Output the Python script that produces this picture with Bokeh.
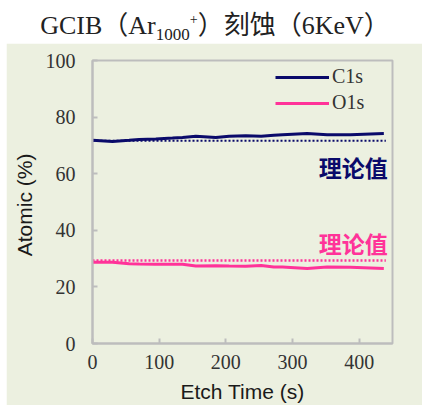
from bokeh.plotting import figure
from bokeh.models import Range1d, FixedTicker, Legend, LegendItem, Div
from bokeh.layouts import column
from bokeh.core.properties import value
from bokeh.embed import file_html
from bokeh.resources import INLINE

# ---- data ----
etch_time = [0, 30, 55, 70, 95, 120, 135, 155, 185, 205, 230, 253, 272, 285, 322, 352, 387, 437]
c1s = [71.8, 71.4, 71.8, 72.1, 72.3, 72.6, 72.8, 73.2, 72.8, 73.2, 73.4, 73.2, 73.6, 73.8, 74.2, 73.8, 73.8, 74.2]
o1s = [28.7, 28.7, 28.2, 28.1, 28.0, 28.0, 28.0, 27.4, 27.5, 27.4, 27.3, 27.6, 27.0, 27.0, 26.5, 27.0, 26.9, 26.5]
theory_c = 71.6
theory_o = 29.3
theory_span = [0, 440]
y_ticks = [0, 20, 40, 60, 80, 100]
x_ticks = [0, 100, 200, 300, 400]
series_names = ["C1s", "O1s"]
note_text = "理论值"

NAVY = "#0a0a6a"
PINK = "#ff3399"
BG = "#ecf0e0"
GRAY = "#bdbdbd"

title = Div(
    text="GCIB（Ar<sub style='font-size:17px'>1000</sub><sup style='font-size:14px'>+</sup>）刻蚀（6KeV）",
    width=422, height=43, margin=0,
    styles={"background-color": "white", "text-align": "center", "font-size": "26px",
            "line-height": "40px", "color": "#222222", "width": "422px", "height": "43px",
            "overflow": "hidden", "padding-left": "8px", "box-sizing": "border-box",
            "font-family": "'Liberation Serif', 'Noto Sans CJK SC', serif"},
)

p = figure(frame_width=300, frame_height=283,
           min_border_left=86, min_border_right=30, min_border_top=17, min_border_bottom=62,
           x_range=Range1d(0, 450), y_range=Range1d(0, 100),
           output_backend="svg", toolbar_location=None)
p.margin = (0, 0, 0, 6)
p.background_fill_color = BG
p.border_fill_color = BG
p.outline_line_color = GRAY
p.outline_line_width = 2
p.xgrid.visible = False
p.ygrid.visible = False

for ax in (p.xaxis[0], p.yaxis[0]):
    ax.axis_line_color = GRAY
    ax.axis_line_width = 2
    ax.major_tick_line_color = GRAY
    ax.major_tick_line_width = 2
    ax.major_tick_out = 0
    ax.major_tick_in = 5
    ax.minor_tick_line_color = None
    ax.major_label_text_font = "Liberation Serif"
    ax.major_label_text_font_size = "20px"
    ax.major_label_text_color = "#333333"
    ax.axis_label_text_font = "Liberation Sans"
    ax.axis_label_text_font_size = "21px"
    ax.axis_label_text_font_style = "normal"
    ax.axis_label_text_color = "#1a1a1a"

p.xaxis.ticker = FixedTicker(ticks=x_ticks)
p.yaxis.ticker = FixedTicker(ticks=y_ticks)
p.xaxis.axis_label = "Etch Time (s)"
p.yaxis.axis_label = "Atomic  (%)"
p.yaxis.major_label_standoff = 17
p.xaxis.major_label_standoff = 11
p.yaxis.axis_label_standoff = 7
p.xaxis.axis_label_standoff = 8

# theoretical values (dotted)
p.line(theory_span, [theory_c, theory_c], line_color=NAVY, line_width=2, line_dash="2 2")
p.line(theory_span, [theory_o, theory_o], line_color=PINK, line_width=2.5, line_dash="2 2")

r_c = p.line(etch_time, c1s, line_color=NAVY, line_width=3)
r_o = p.line(etch_time, o1s, line_color=PINK, line_width=3)

p.text(x=[443], y=[62.2], text=[note_text], text_align="right", text_baseline="middle",
       text_font=value("Noto Sans CJK SC"), text_font_size="23px", text_font_style="bold",
       text_color=NAVY)
p.text(x=[443], y=[35.4], text=[note_text], text_align="right", text_baseline="middle",
       text_font=value("Noto Sans CJK SC"), text_font_size="23px", text_font_style="bold",
       text_color=PINK)

legend = Legend(items=[LegendItem(label=series_names[0], renderers=[r_c]),
                       LegendItem(label=series_names[1], renderers=[r_o])],
                location=(183, 229), padding=0, margin=0, spacing=3,
                glyph_width=54, glyph_height=20, label_height=20, label_standoff=3,
                border_line_color=None, background_fill_alpha=0,
                label_text_font="Liberation Serif", label_text_font_size="20px",
                label_text_color="#333333")
p.add_layout(legend)

layout = column(title, p, spacing=0)
open("out.html", "w").write(file_html(layout, INLINE))
